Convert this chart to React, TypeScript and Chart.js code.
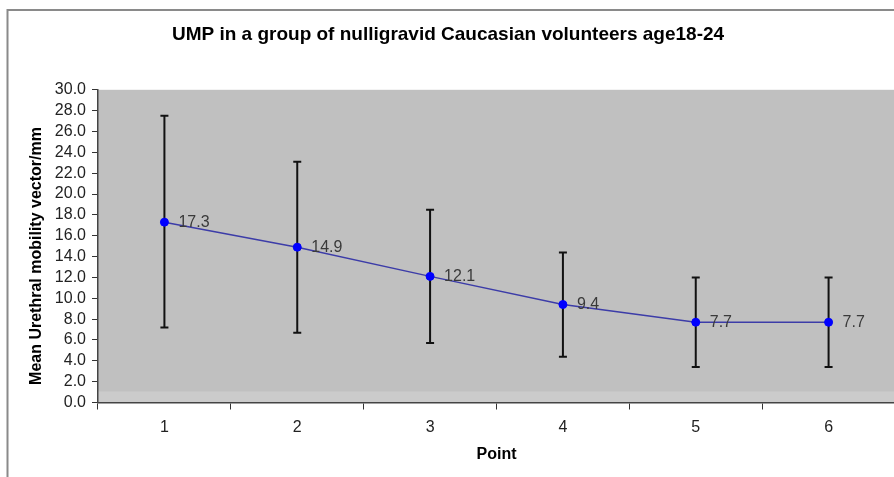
import React, { useEffect, useRef } from "react";
import { Chart, registerables } from "chart.js";

Chart.register(...registerables);

const categories = ["1", "2", "3", "4", "5", "6"];
const means = [17.3, 14.9, 12.1, 9.4, 7.7, 7.7];
const upper = [27.5, 23.1, 18.5, 14.4, 12.0, 12.0];
const lower = [7.2, 6.7, 5.7, 4.4, 3.4, 3.4];
const titleText = "UMP in a group of nulligravid Caucasian volunteers age18-24";
const yTitle = "Mean Urethral mobility vector/mm";
const xTitle = "Point";

const FONT = "'Liberation Sans', Arial, sans-serif";

const framePlugin = {
  id: "frame",
  beforeDraw(chart: any) {
    const { ctx, chartArea } = chart;
    ctx.save();
    ctx.fillStyle = "#ffffff";
    ctx.fillRect(0, 0, chart.width, chart.height);
    ctx.strokeStyle = "#8a8a8a";
    ctx.lineWidth = 2;
    ctx.strokeRect(7.5, 10, chart.width + 20, chart.height + 20);
    ctx.fillStyle = "#c0c0c0";
    ctx.fillRect(chartArea.left, chartArea.top, chartArea.right - chartArea.left, chartArea.bottom - chartArea.top);
    ctx.fillStyle = "#cbcbcb";
    ctx.fillRect(chartArea.left, chartArea.bottom - 11, chartArea.right - chartArea.left, 11);
    ctx.restore();
  },
};

const errorBarPlugin = {
  id: "errbars",
  beforeDatasetsDraw(chart: any) {
    const { ctx } = chart;
    const xs = chart.scales.x;
    const ys = chart.scales.y;
    ctx.save();
    ctx.strokeStyle = "#111111";
    ctx.lineWidth = 2;
    for (let i = 0; i < means.length; i++) {
      const x = xs.getPixelForValue(i);
      const yt = ys.getPixelForValue(upper[i]);
      const yb = ys.getPixelForValue(lower[i]);
      ctx.beginPath();
      ctx.moveTo(x, yt);
      ctx.lineTo(x, yb);
      ctx.moveTo(x - 4, yt);
      ctx.lineTo(x + 4, yt);
      ctx.moveTo(x - 4, yb);
      ctx.lineTo(x + 4, yb);
      ctx.stroke();
    }
    ctx.restore();
  },
  afterDatasetsDraw(chart: any) {
    const { ctx } = chart;
    const meta = chart.getDatasetMeta(0);
    ctx.save();
    ctx.font = `16px ${FONT}`;
    ctx.fillStyle = "#3a3a3a";
    ctx.textBaseline = "middle";
    ctx.textAlign = "left";
    meta.data.forEach((pt: any, i: number) => {
      ctx.fillText(means[i].toFixed(1), pt.x + 14, pt.y);
    });
    ctx.restore();
  },
  afterDraw(chart: any) {
    const { ctx } = chart;
    ctx.save();
    ctx.translate(37, 256);
    ctx.rotate(-Math.PI / 2);
    ctx.font = `bold 16px ${FONT}`;
    ctx.fillStyle = "#000";
    ctx.textAlign = "center";
    ctx.textBaseline = "middle";
    ctx.fillText(yTitle, 0, 0);
    ctx.restore();
  },
};

export default function App() {
  const ref = useRef<HTMLCanvasElement>(null);
  useEffect(() => {
    if (!ref.current) return;
    const chart = new Chart(ref.current, {
      type: "line",
      data: {
        labels: categories,
        datasets: [
          {
            data: means,
            borderColor: "#3c3ca8",
            borderWidth: 1.5,
            pointBackgroundColor: "#0000ff",
            pointBorderColor: "#0000ff",
            pointRadius: 4,
            pointBorderWidth: 1,
            tension: 0,
            fill: false,
          },
        ],
      },
      options: {
        animation: false,
        responsive: false,
        devicePixelRatio: 1,
        layout: { padding: { left: 0, right: 4, top: 0, bottom: 0 } },
        plugins: {
          legend: { display: false },
          tooltip: { enabled: false },
          title: {
            display: true,
            text: titleText,
            color: "#000",
            font: { family: FONT, size: 19, weight: "bold" },
            padding: { top: 23, bottom: 44 },
          },
        },
        scales: {
          x: {
            type: "category",
            offset: true,
            afterFit: (s: any) => {
              s.height = 74.5;
            },
            grid: { offset: true, drawOnChartArea: false, drawTicks: true, tickLength: 7, color: "#333", lineWidth: 1 },
            border: { display: true, color: "#444", width: 1.5 },
            ticks: { color: "#222", font: { family: FONT, size: 16 }, padding: 8 },
            title: {
              display: true,
              text: xTitle,
              color: "#000",
              font: { family: FONT, size: 16, weight: "bold" },
              padding: { top: 0, bottom: 13 },
            },
          },
          y: {
            min: 0,
            max: 30,
            afterFit: (s: any) => {
              s.width = 98;
            },
            grid: { drawOnChartArea: false, drawTicks: true, tickLength: 6, color: "#333", lineWidth: 1 },
            border: { display: true, color: "#444", width: 1.5 },
            ticks: {
              stepSize: 2,
              autoSkip: false,
              color: "#222",
              font: { family: FONT, size: 16 },
              padding: 6,
              callback: (v: any) => Number(v).toFixed(1),
            },
          },
        },
      },
      plugins: [framePlugin, errorBarPlugin],
    });
    return () => chart.destroy();
  }, []);
  return (
    <div style={{ position: "fixed", left: 0, top: 0, width: 894, height: 477, overflow: "hidden", background: "#fff" }}>
      <canvas ref={ref} width={900} height={477} style={{ width: 900, height: 477, display: "block" }} />
    </div>
  );
}
